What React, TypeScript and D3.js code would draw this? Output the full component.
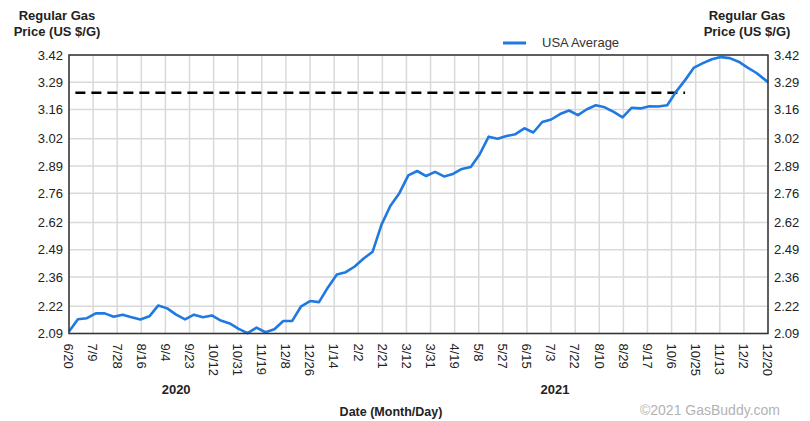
import { useEffect, useRef } from 'react';
import * as d3 from 'd3';

// weekly USA average regular gas price, starting 6/20/2020
const startDate = '2020-06-20';
const endDate = '2021-12-20';
const usaAverage = [
  2.1, 2.158, 2.163, 2.186, 2.186, 2.17, 2.18, 2.168, 2.157, 2.172,
  2.224, 2.21, 2.18, 2.157, 2.18, 2.168, 2.176, 2.152, 2.138, 2.112,
  2.092, 2.118, 2.096, 2.11, 2.15, 2.15, 2.22, 2.245, 2.24, 2.31,
  2.372, 2.383, 2.41, 2.448, 2.48, 2.61, 2.7, 2.76, 2.845, 2.866,
  2.842, 2.862, 2.84, 2.852, 2.876, 2.885, 2.946, 3.03, 3.02, 3.033,
  3.042, 3.07, 3.05, 3.1, 3.112, 3.138, 3.155, 3.133, 3.161, 3.18,
  3.17, 3.148, 3.122, 3.168, 3.165, 3.175, 3.174, 3.18, 3.245, 3.3,
  3.36, 3.381, 3.4, 3.41, 3.405, 3.388, 3.36, 3.334, 3.3, 3.29,
];

// dashed reference level
const refDates = ['2020-06-25', '2021-10-16'];
const refValue = 3.24;

const yTicks = [2.09, 2.22, 2.36, 2.49, 2.62, 2.76, 2.89, 3.02, 3.16, 3.29, 3.42];
const xTickLabels = [
  '6/20', '7/9', '7/28', '8/16', '9/4', '9/23', '10/12', '10/31', '11/19', '12/8',
  '12/26', '1/14', '2/2', '2/21', '3/12', '3/31', '4/19', '5/8', '5/27', '6/15',
  '7/3', '7/22', '8/10', '8/29', '9/17', '10/6', '10/25', '11/13', '12/2', '12/20',
];
const yearLabels = ['2020', '2021'];
const yearLabelDates = ['2020-09-12', '2021-07-06'];

const FONT = "Arial, 'Liberation Sans', sans-serif";

const App = () => {
  const svgRef = useRef<SVGSVGElement>(null);

  useEffect(() => {
    if (!svgRef.current) return;
    const svg = d3.select(svgRef.current);
    svg.selectAll('*').remove();

    const left = 69;
    const right = 768;
    const top = 55;
    const bottom = 333.5;

    const parse = d3.utcParse('%Y-%m-%d');
    const start = parse(startDate) as Date;
    const end = parse(endDate) as Date;
    const dates = usaAverage.map((_, i) => {
      const d = d3.utcDay.offset(start, i * 7);
      return d > end ? end : d;
    });

    const x = d3.scaleUtc().domain([start, end]).range([left, right]);
    const xTick = d3.scalePoint<string>().domain(xTickLabels).range([left, right]);
    const y = d3.scaleLinear().domain([2.09, 3.42]).range([bottom, top]);

    // grid
    const grid = svg.append('g').attr('stroke', '#d9d9d9').attr('stroke-width', 1.5);
    grid
      .selectAll('line.v')
      .data(xTickLabels)
      .enter()
      .append('line')
      .attr('x1', d => xTick(d) as number)
      .attr('x2', d => xTick(d) as number)
      .attr('y1', top)
      .attr('y2', bottom);
    grid
      .selectAll('line.h')
      .data(yTicks)
      .enter()
      .append('line')
      .attr('x1', left)
      .attr('x2', right)
      .attr('y1', d => y(d))
      .attr('y2', d => y(d));

    // dashed reference line
    svg
      .append('line')
      .attr('x1', x(parse(refDates[0]) as Date))
      .attr('x2', x(parse(refDates[1]) as Date))
      .attr('y1', y(refValue))
      .attr('y2', y(refValue))
      .attr('stroke', '#000')
      .attr('stroke-width', 2.5)
      .attr('stroke-dasharray', '10 6');

    // price line
    const line = d3
      .line<number>()
      .x((_, i) => x(dates[i]))
      .y(d => y(d))
      .curve(d3.curveLinear);

    svg
      .append('path')
      .datum(usaAverage)
      .attr('fill', 'none')
      .attr('stroke', '#2079e0')
      .attr('stroke-width', 2.6)
      .attr('stroke-linejoin', 'round')
      .attr('d', line);

    // frame
    svg
      .append('rect')
      .attr('x', left)
      .attr('y', top)
      .attr('width', right - left)
      .attr('height', bottom - top)
      .attr('fill', 'none')
      .attr('stroke', '#333')
      .attr('stroke-width', 1.5);

    // y tick labels, both sides
    const yl = svg.append('g').attr('font-family', FONT).attr('font-size', 13).attr('fill', '#222');
    yl.selectAll('text.l')
      .data(yTicks)
      .enter()
      .append('text')
      .attr('x', left - 6)
      .attr('y', d => y(d))
      .attr('dy', '0.36em')
      .attr('text-anchor', 'end')
      .text(d => d.toFixed(2));
    yl.selectAll('text.r')
      .data(yTicks)
      .enter()
      .append('text')
      .attr('x', right + 6)
      .attr('y', d => y(d))
      .attr('dy', '0.36em')
      .attr('text-anchor', 'start')
      .text(d => d.toFixed(2));

    // x tick labels, rotated
    svg
      .append('g')
      .attr('font-family', FONT)
      .attr('font-size', 13)
      .attr('fill', '#222')
      .selectAll('text')
      .data(xTickLabels)
      .enter()
      .append('text')
      .attr('transform', d => `translate(${xTick(d)},${bottom + 10}) rotate(90)`)
      .attr('dy', '0.36em')
      .text(d => d);

    // year labels
    svg
      .append('g')
      .attr('font-family', FONT)
      .attr('font-size', 13)
      .attr('font-weight', 'bold')
      .attr('fill', '#222')
      .selectAll('text')
      .data(yearLabels)
      .enter()
      .append('text')
      .attr('x', (_, i) => x(parse(yearLabelDates[i]) as Date))
      .attr('y', 394)
      .attr('text-anchor', 'middle')
      .text(d => d);

    svg
      .append('text')
      .attr('x', 391)
      .attr('y', 416)
      .attr('text-anchor', 'middle')
      .attr('font-family', FONT)
      .attr('font-size', 12.5)
      .attr('font-weight', 'bold')
      .attr('fill', '#222')
      .text('Date (Month/Day)');

    // axis titles
    [57, 747].forEach(cx => {
      const t = svg
        .append('text')
        .attr('text-anchor', 'middle')
        .attr('font-family', FONT)
        .attr('font-size', 13)
        .attr('font-weight', 'bold')
        .attr('fill', '#222');
      t.append('tspan').attr('x', cx).attr('y', 20).text('Regular Gas');
      t.append('tspan').attr('x', cx).attr('y', 36).text('Price (US $/G)');
    });

    // legend
    svg
      .append('line')
      .attr('x1', 503)
      .attr('x2', 526)
      .attr('y1', 43)
      .attr('y2', 43)
      .attr('stroke', '#2079e0')
      .attr('stroke-width', 3);
    svg
      .append('text')
      .attr('x', 542)
      .attr('y', 47)
      .attr('font-family', FONT)
      .attr('font-size', 13)
      .attr('fill', '#333')
      .text('USA Average');

    svg
      .append('text')
      .attr('x', 780)
      .attr('y', 415)
      .attr('text-anchor', 'end')
      .attr('font-family', FONT)
      .attr('font-size', 14)
      .attr('fill', '#b3b3b3')
      .text('©2021 GasBuddy.com');
  }, []);

  return (
    <svg
      ref={svgRef}
      width={810}
      height={421}
      style={{ position: 'absolute', left: 0, top: 0, background: '#fff' }}
    />
  );
};

export default App;
